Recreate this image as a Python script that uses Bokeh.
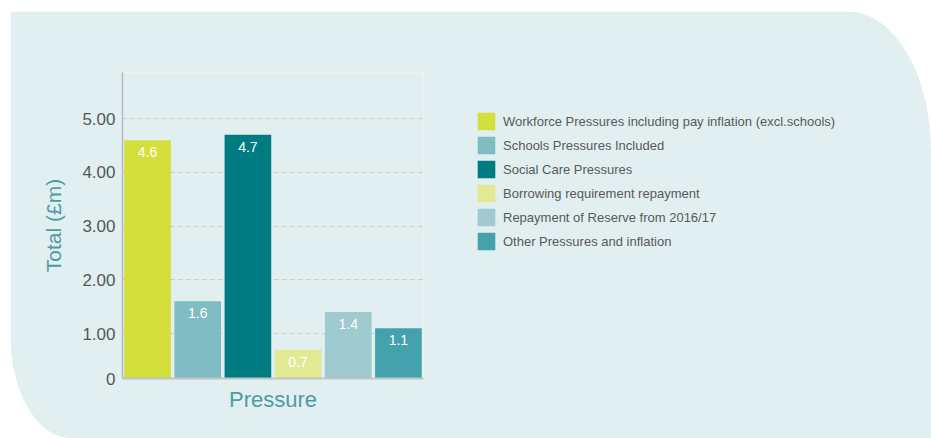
from bokeh.plotting import figure
from bokeh.models import ColumnDataSource, FactorRange, Range1d, FixedTicker, LabelSet, Legend, LegendItem
from bokeh.core.properties import value
from bokeh.embed import file_html
from bokeh.resources import INLINE

# ---- data ----
categories = [
    "Workforce Pressures including pay inflation (excl.schools)",
    "Schools Pressures Included",
    "Social Care Pressures",
    "Borrowing requirement repayment",
    "Repayment of Reserve from 2016/17",
    "Other Pressures and inflation",
]
values = [4.6, 1.6, 4.7, 0.7, 1.4, 1.1]
value_labels = ["4.6", "1.6", "4.7", "0.7", "1.4", "1.1"]
colors = ["#d5df3c", "#80bcc3", "#007b82", "#e2e993", "#9fcad0", "#43a2ab"]

# the reference draws its "0" baseline a little above the true zero
y_ticks = [0.163, 1, 2, 3, 4, 5]
y_tick_labels = ["0", "1.00", "2.00", "3.00", "4.00", "5.00"]
grid_ticks = [1, 2, 3, 4, 5]

BG = "#e1eff0"
FONT = "Liberation Sans"

src = ColumnDataSource(dict(cat=categories, val=values, lab=value_labels, col=colors))

p = figure(
    x_range=FactorRange(factors=categories, range_padding=0),
    y_range=Range1d(0.163, 5.86),
    frame_width=301, frame_height=306,
    margin=(11, 0, 0, 10),
    output_backend="svg", toolbar_location=None,
    min_border_left=112, min_border_top=61, min_border_bottom=60, min_border_right=0,
    styles={"width": "921px", "max-width": "921px", "height": "427px",
            "border-radius": "0 84px 0 60px / 0 140px 0 105px", "overflow": "hidden"},
)
p.border_fill_color = BG
p.background_fill_color = BG
p.outline_line_color = None

r = p.vbar(x="cat", top="val", width=0.93, bottom=0, source=src,
           fill_color="col", line_color=None)

labels = LabelSet(x="cat", y="val", text="lab", source=src, text_color="white",
                  text_font=value(FONT), text_font_size="14px", text_align="center",
                  text_baseline="top", y_offset=-7)
p.add_layout(labels)

# axes
p.xgrid.grid_line_color = None
p.ygrid.ticker = FixedTicker(ticks=grid_ticks)
p.ygrid.grid_line_color = "#c3cbcd"
p.ygrid.grid_line_dash = "4 4"
p.ygrid.grid_line_width = 1

p.yaxis.ticker = FixedTicker(ticks=y_ticks)
p.yaxis.major_label_overrides = {t: s for t, s in zip(y_ticks, y_tick_labels)}
p.yaxis.major_tick_line_color = None
p.yaxis.minor_tick_line_color = None
p.yaxis.major_tick_out = 0
p.yaxis.major_label_standoff = 7
p.yaxis.major_label_text_font = FONT
p.yaxis.major_label_text_font_size = "17px"
p.yaxis.major_label_text_color = "#555658"
p.yaxis.axis_line_color = "#b5b9bb"
p.yaxis.axis_line_width = 1.5
p.yaxis.axis_label = "Total (£m)"
p.yaxis.axis_label_text_font = FONT
p.yaxis.axis_label_text_font_size = "21px"
p.yaxis.axis_label_text_font_style = "normal"
p.yaxis.axis_label_text_color = "#4f9ba5"
p.yaxis.axis_label_standoff = 14

p.xaxis.ticker = FixedTicker(ticks=[])
p.xaxis.major_tick_line_color = None
p.xaxis.minor_tick_line_color = None
p.xaxis.major_tick_out = 0
p.xaxis.major_label_standoff = 0
p.xaxis.axis_line_color = "#c0c4c6"
p.xaxis.axis_line_width = 2
p.xaxis.axis_label = "Pressure"
p.xaxis.axis_label_text_font = FONT
p.xaxis.axis_label_text_font_size = "22px"
p.xaxis.axis_label_text_font_style = "normal"
p.xaxis.axis_label_text_color = "#4f9ba5"
p.xaxis.axis_label_standoff = 8

legend = Legend(
    items=[LegendItem(label=c, renderers=[r], index=i) for i, c in enumerate(categories)],
    location=(52, 126),
    padding=0, margin=0, spacing=2,
    glyph_width=22, glyph_height=22, label_height=22, label_standoff=6,
    label_text_font=FONT, label_text_font_size="13px", label_text_color="#58595b",
    background_fill_alpha=0, border_line_color=None,
)
p.add_layout(legend, "right")

open("out.html", "w").write(file_html(p, INLINE))
